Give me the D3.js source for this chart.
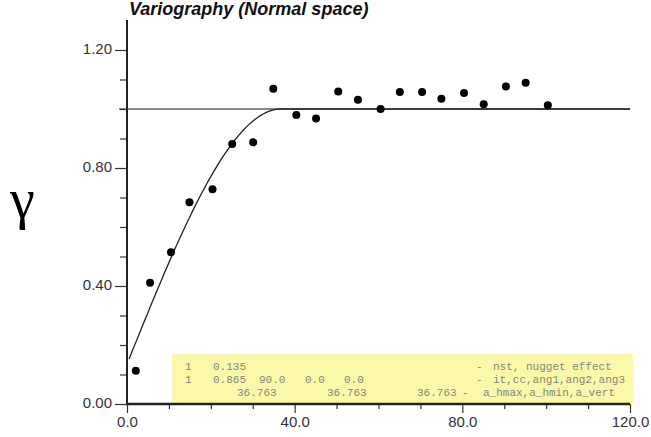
<!DOCTYPE html>
<html>
<head>
<meta charset="utf-8">
<script src="https://cdn.jsdelivr.net/npm/d3@7"></script>
<style>
  body { margin: 0; background: #fff; }
  svg { display: block; }
</style>
</head>
<body>
<svg class="chart" width="651" height="437"></svg>
<script>
// experimental variogram points (lag distance, gamma)
const lags = [2.1, 5.5, 10.5, 14.9, 20.4, 25.1, 30.1, 34.9, 40.4, 45.1, 50.4,
  55.1, 60.5, 65.1, 70.4, 75.0, 80.4, 85.1, 90.4, 95.1, 100.4];
const gammas = [0.113, 0.411, 0.514, 0.684, 0.728, 0.881, 0.887, 1.069, 0.980,
  0.968, 1.059, 1.031, 1.000, 1.058, 1.058, 1.035, 1.054, 1.016, 1.076, 1.089, 1.013];

// spherical model parameters (as printed in the box)
const nugget = 0.135;
const cc = 0.865;
const range = 36.763;

const xTicks = [0, 40, 80, 120];
const xMinor = [10, 20, 30, 50, 60, 70, 90, 100, 110];
const yTicks = [0, 0.4, 0.8, 1.2];
const yMinor = [0.1, 0.2, 0.3, 0.5, 0.6, 0.7, 0.9, 1.0, 1.1];

// parameter box rows: [text, x]
const parRows = [
  [["1", 185], ["0.135", 213], ["-", 476], ["nst, nugget effect", 493]],
  [["1", 185], ["0.865", 213], ["90.0", 259], ["0.0", 305], ["0.0", 344], ["-", 476], ["it,cc,ang1,ang2,ang3", 493]],
  [["36.763", 237], ["36.763", 327], ["36.763", 417], ["-", 462], ["a_hmax,a_hmin,a_vert", 483]],
];

const svg = d3.select(".chart");

const x = d3.scaleLinear().domain([0, 120]).range([127, 630]);
const y = d3.scaleLinear().domain([0, 1.2]).range([404, 50]);

// yellow parameter box
svg.append("rect")
  .attr("x", 172).attr("y", 354)
  .attr("width", 461).attr("height", 49)
  .attr("fill", "#fcf8aa");

const parG = svg.append("g")
  .attr("font-family", "'Liberation Mono', 'DejaVu Sans Mono', monospace")
  .attr("font-size", 11)
  .attr("fill", "#86867a");

parRows.forEach((row, i) => {
  row.forEach(([t, px]) => {
    parG.append("text")
      .attr("x", px)
      .attr("y", 370 + i * 13)
      .text(t);
  });
});

// sill line
svg.append("line")
  .attr("x1", x(0) - 8).attr("x2", x(120))
  .attr("y1", y(nugget + cc)).attr("y2", y(nugget + cc))
  .attr("stroke", "#1a1a1a").attr("stroke-width", 1.2);

// y axis
const yAxis = d3.axisLeft(y).tickValues(yTicks).tickSize(12).tickSizeOuter(0)
  .tickFormat(d3.format(".2f"));
const yAxisMinor = d3.axisLeft(y).tickValues(yMinor).tickSize(7).tickSizeOuter(0)
  .tickFormat("");

const gy = svg.append("g").attr("transform", `translate(${x(0)},0)`).call(yAxis);
svg.append("g").attr("transform", `translate(${x(0)},0)`).call(yAxisMinor)
  .select(".domain").remove();
gy.select(".domain").remove();
gy.selectAll("text")
  .attr("x", -15).attr("dy", "0.2em")
  .attr("font-family", "'Liberation Sans', Arial, sans-serif")
  .attr("font-size", 15).attr("fill", "#333");

// x axis
const xAxis = d3.axisBottom(x).tickValues(xTicks).tickSize(9).tickSizeOuter(0)
  .tickFormat(d3.format(".1f"));
const xAxisMinor = d3.axisBottom(x).tickValues(xMinor).tickSize(5).tickSizeOuter(0)
  .tickFormat("");

const gx = svg.append("g").attr("transform", `translate(0,${y(0)})`).call(xAxis);
svg.append("g").attr("transform", `translate(0,${y(0)})`).call(xAxisMinor)
  .select(".domain").remove();
gx.select(".domain").remove();
gx.selectAll("text")
  .attr("y", 12)
  .attr("font-family", "'Liberation Sans', Arial, sans-serif")
  .attr("font-size", 15).attr("fill", "#333");

svg.selectAll(".tick line").attr("stroke", "#333").attr("stroke-width", 1.2);

// axis lines
svg.append("line")
  .attr("x1", x(0)).attr("x2", x(0))
  .attr("y1", 20).attr("y2", y(0) + 1)
  .attr("stroke", "#222").attr("stroke-width", 2);
svg.append("line")
  .attr("x1", x(0) - 1).attr("x2", x(120))
  .attr("y1", y(0)).attr("y2", y(0))
  .attr("stroke", "#222").attr("stroke-width", 2.5);

// spherical model curve
const hs = d3.range(0.5, 120.01, 0.5);
const model = (h) => h >= range
  ? nugget + cc
  : nugget + cc * (1.5 * h / range - 0.5 * Math.pow(h / range, 3));

svg.append("path")
  .datum(hs)
  .attr("d", d3.line().x((h) => x(h)).y((h) => y(model(h))))
  .attr("fill", "none")
  .attr("stroke", "#222")
  .attr("stroke-width", 1.3);

// experimental points
svg.append("g")
  .selectAll("circle")
  .data(lags)
  .enter()
  .append("circle")
  .attr("cx", (d) => x(d))
  .attr("cy", (d, i) => y(gammas[i]))
  .attr("r", 4)
  .attr("fill", "#000");

// title
svg.append("text")
  .attr("x", 129).attr("y", 15)
  .attr("font-family", "'Liberation Sans', Arial, sans-serif")
  .attr("font-size", 18)
  .attr("font-weight", "bold")
  .attr("font-style", "italic")
  .attr("fill", "#111")
  .text("Variography (Normal space)");

// gamma label
svg.append("text")
  .attr("x", 10).attr("y", 218)
  .attr("font-family", "'Liberation Serif', 'DejaVu Serif', serif")
  .attr("font-size", 56)
  .attr("fill", "#000")
  .text("γ");
</script>
</body>
</html>
